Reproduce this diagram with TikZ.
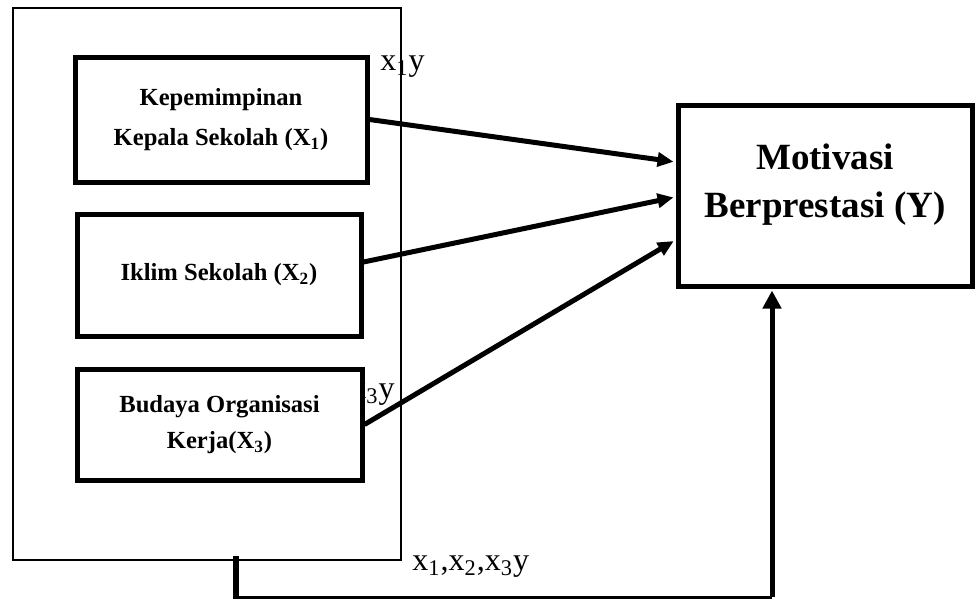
\documentclass[tikz,border=0pt]{standalone}
\usepackage{fontspec}
\setmainfont{Liberation Serif}
\usetikzlibrary{arrows.meta}

\tikzset{
  varbox/.style={draw, line width=2.5pt, fill=white, align=center,
    font=\fontsize{12.3}{18}\selectfont\bfseries},
  outbox/.style={draw, line width=2.5pt, fill=white},
  outtext/.style={align=center, font=\fontsize{18.5}{24}\selectfont\bfseries},
  flow/.style={line width=2.5pt, -{Triangle[length=8pt,width=7pt]}, shorten >=1pt},
  pathlabel/.style={anchor=base west, inner sep=0pt, font=\fontsize{16}{18}\selectfont},
}

\begin{document}
\begin{tikzpicture}[x=0.5pt,y=-0.5pt]
  % 设置矩形的宽度和高度
  \def\boxOneWidth{146pt}
  \def\boxOneHeight{62.5pt}
  \def\boxTwoWidth{142pt}
  \def\boxTwoHeight{61pt}
  \def\boxThreeWidth{142.5pt}
  \def\boxThreeHeight{55.5pt}
  \def\outWidth{147pt}
  \def\outHeight{90.5pt}

  \useasboundingbox (0,0) rectangle (979,600);

  % 路径标签
  \node[pathlabel] (lblOne) at (380,70) {x\textsubscript{1}y};
  \node[pathlabel] (lblThree) at (350,398) {x\textsubscript{3}y};
  \node[pathlabel] (lblAll) at (412,570) {x\textsubscript{1},x\textsubscript{2},x\textsubscript{3}y};

  % 绘制外框
  \draw[line width=0.75pt] (13,8) rectangle (401,560);

  % 绘制三个自变量矩形
  \node[varbox, minimum width=\boxOneWidth, minimum height=\boxOneHeight] (kpl) at (221,119.5)
    {Kepemimpinan\\[2pt]Kepala Sekolah (X\textsubscript{1})};
  \node[varbox, minimum width=\boxTwoWidth, minimum height=\boxTwoHeight] (iklim) at (219,275)
    {Iklim Sekolah (X\textsubscript{2})};
  \node[varbox, minimum width=\boxThreeWidth, minimum height=\boxThreeHeight] (budaya) at (219.5,424.5)
    {Budaya Organisasi\\Kerja(X\textsubscript{3})};

  % 绘制因变量矩形
  \node[outbox, minimum width=\outWidth, minimum height=\outHeight,
    label={[outtext, yshift=5.5pt]center:{Motivasi\\Berprestasi (Y)}}] (mot) at (825,195.5) {};

  % 绘制箭头
  \draw[flow] (kpl.east) -- ([yshift=16.75pt]mot.west);
  \draw[flow] ([yshift=6.5pt]iklim.east) -- ([yshift=-0.75pt]mot.west);
  \draw[flow] (budaya.east) -- ([yshift=-22.25pt]mot.west);

  % 绘制共同作用的连线
  \coordinate (stub) at (235.5,556);
  \coordinate (corner) at (772,597);
  \draw[line width=3pt] (stub) -- ++(0,43);
  \draw[line width=1.5pt] (stub |- corner) -- (corner);
  \draw[flow, -{Triangle[length=9pt,width=9pt]}] (corner) -- (corner |- mot.south);
\end{tikzpicture}
\end{document}
